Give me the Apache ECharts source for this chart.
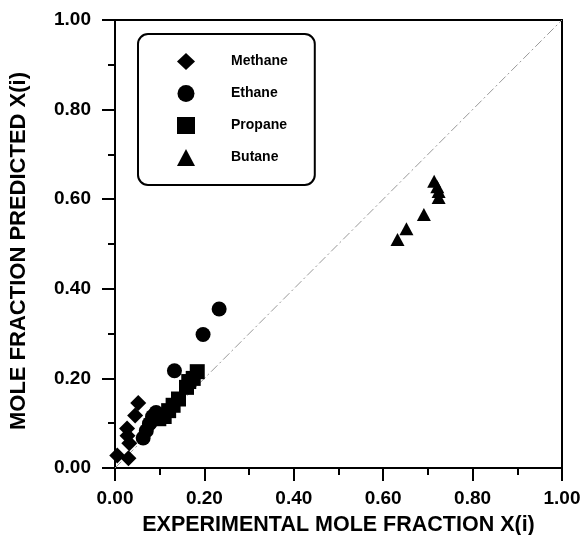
<!DOCTYPE html>
<html>
<head>
<meta charset="utf-8">
<script src="https://cdn.jsdelivr.net/npm/echarts@6/dist/echarts.min.js"></script>
<style>html,body{margin:0;padding:0;background:#fff;}#c{width:581px;height:535px;}</style>
</head>
<body>
<div id="c"></div>
<script>
var seriesNames = ['Methane', 'Ethane', 'Propane', 'Butane'];
var methane = [[0.005,0.028],[0.030,0.022],[0.032,0.055],[0.028,0.072],[0.027,0.088],[0.045,0.117],[0.052,0.145]];
var ethane = [[0.063,0.067],[0.070,0.083],[0.077,0.099],[0.084,0.115],[0.092,0.124],[0.133,0.217],[0.197,0.298],[0.233,0.355]];
var propane = [[0.098,0.110],[0.110,0.115],[0.120,0.128],[0.130,0.140],[0.142,0.154],[0.160,0.180],[0.165,0.193],[0.175,0.200],[0.184,0.215]];
var butane = [[0.632,0.510],[0.652,0.534],[0.691,0.566],[0.714,0.640],[0.721,0.628],[0.724,0.617],[0.724,0.604]];
var diagonal = [[0,0],[1,1]];

var font = 'Liberation Sans, Arial, sans-serif';
var chart = echarts.init(document.getElementById('c'), null, {renderer: 'canvas'});
function axis(name, isY) {
  return {
    type: 'value', min: 0, max: 1, interval: 0.2,
    name: name, nameLocation: 'middle', nameGap: isY ? 85 : 46,
    nameTextStyle: {fontFamily: font, fontWeight: 'bold', fontSize: isY ? 22 : 21.5, color: '#000',
      padding: isY ? [0, 14, 0, 0] : 0},
    axisLine: {show: true, onZero: false, lineStyle: {color: '#000', width: 2}},
    axisTick: {show: true, length: 13, lineStyle: {color: '#000', width: 2}},
    minorTick: {show: true, splitNumber: 2, length: 7, lineStyle: {color: '#000', width: 2}},
    splitLine: {show: false},
    axisLabel: {fontFamily: font, fontWeight: 'bold', fontSize: 19, color: '#000', margin: isY ? 24 : 21,
      formatter: function (v) { return v.toFixed(2); }}
  };
}
var mark = {color: '#000', opacity: 1};
chart.setOption({
  animation: false,
  grid: {left: 115, right: 19, top: 20, bottom: 67, show: true, borderColor: '#000', borderWidth: 2,
    containLabel: false, outerBoundsMode: 'none'},
  xAxis: axis('EXPERIMENTAL MOLE FRACTION X(i)', false),
  yAxis: axis('MOLE FRACTION PREDICTED X(i)', true),
  legend: {
    data: seriesNames, orient: 'vertical', left: 138, top: 34,
    padding: [19, 27, 19, 39], itemWidth: 18, itemHeight: 17, itemGap: 15,
    borderColor: '#000', borderWidth: 2, borderRadius: 10,
    itemStyle: {opacity: 1},
    textStyle: {fontFamily: font, fontWeight: 'bold', fontSize: 14, color: '#000', padding: [0, 0, 0, 31]}
  },
  series: [
    {type: 'line', data: diagonal, symbol: 'none', silent: true,
      lineStyle: {color: '#999', width: 1, type: [9, 3, 2, 3]}, z: 1},
    {name: seriesNames[0], type: 'scatter', data: methane, symbol: 'diamond', symbolSize: 16, itemStyle: mark},
    {name: seriesNames[1], type: 'scatter', data: ethane, symbol: 'circle', symbolSize: 15, itemStyle: mark},
    {name: seriesNames[2], type: 'scatter', data: propane, symbol: 'rect', symbolSize: 15, itemStyle: mark},
    {name: seriesNames[3], type: 'scatter', data: butane, symbol: 'triangle', symbolSize: [14, 13], itemStyle: mark}
  ]
});
</script>
</body>
</html>
